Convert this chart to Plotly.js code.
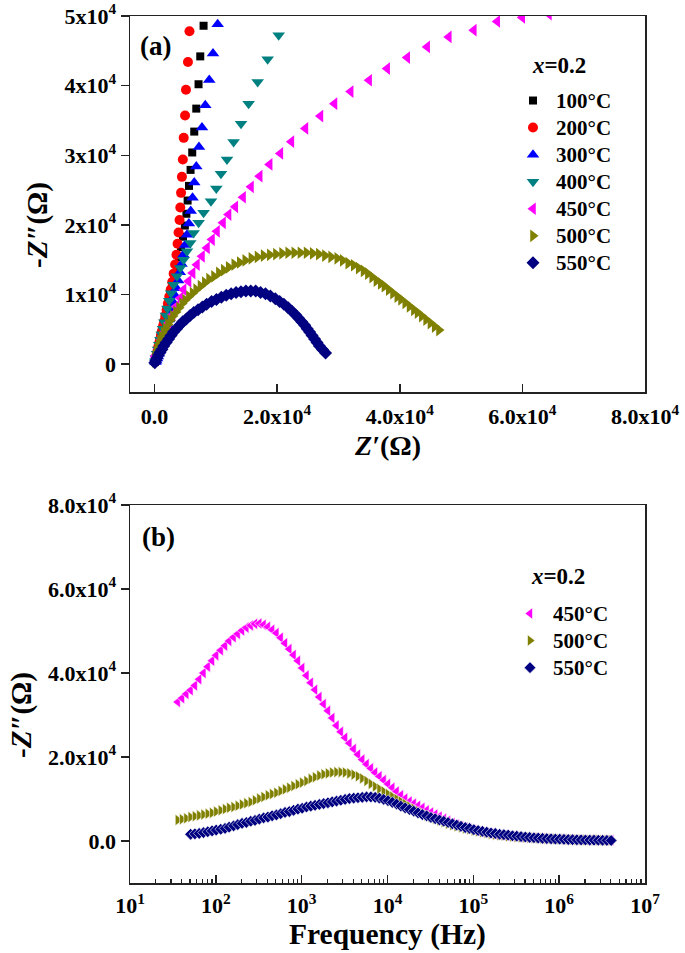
<!DOCTYPE html>
<html><head><meta charset="utf-8">
<script src="https://cdn.plot.ly/plotly-3.0.1.min.js"></script>
<style>html,body{margin:0;padding:0;background:#fff}</style>
</head><body><div id="chart" style="width:685px;height:953px"></div>
<script>
// ---------- Panel (a): Nyquist plot, Z' (Ohm) vs -Z'' (Ohm) ----------
const temps = ['100°C','200°C','300°C','400°C','450°C','500°C','550°C'];

const z100Re = [8000,7460,7180,6810,6480,6150,5880,5620,5400,5200,4950,4650,4330,4000,3680,3380,3100,2830,2570,2330,2100,1880,1670,1480,1300,1140,990,860,730,620,520,420,340,260,180,120,70];
const z100Im = [48600,44200,40200,36700,33400,30400,27900,25600,23500,21600,19900,18300,16800,15400,14100,12900,11800,10800,9800,8900,8000,7200,6400,5700,5000,4400,3800,3300,2800,2400,2000,1600,1300,1000,700,500,300];

const z200Re = [5700,5450,5130,4980,4760,4620,4470,4330,4200,4080,3920,3760,3580,3360,3120,2880,2640,2410,2180,1970,1770,1580,1400,1230,1070,920,790,660,560,460,360,280,200,130,80];
const z200Im = [47800,43400,39400,35700,32500,29400,26900,24600,22500,20700,18900,17300,15700,14300,13000,11800,10700,9700,8700,7800,7000,6200,5500,4800,4200,3600,3100,2600,2200,1800,1400,1100,800,500,300];

const z300Re = [10300,9540,8930,8280,7740,7250,6810,6480,6200,5900,5600,5300,5000,4700,4400,4120,3850,3580,3320,3060,2810,2580,2350,2130,1920,1720,1520,1340,1160,990,830,680,530,400,270,160];
const z300Im = [48800,44600,40800,37200,34000,31200,28400,26100,23900,22000,20200,18600,17100,15700,14400,13200,12000,10900,9900,8900,8000,7200,6400,5700,5000,4400,3800,3300,2800,2300,1900,1500,1100,800,500,300];

const z400Re = [20250,18450,16820,15350,14110,12900,11820,10840,10080,9210,8000,7190,6370,5830,5290,4740,4200,3660,3100,2700,2400,2100,1850,1600,1380,1170,960,770,580,420,250,110];
const z400Im = [47240,43790,40520,37410,34540,31890,29400,27340,25220,23400,21730,20290,18850,17410,16200,15010,13810,12610,11400,10200,9100,8000,7000,6000,5100,4300,3500,2800,2100,1500,900,400];

const z450Re = [64330,59980,55900,52080,48000,44470,41220,37950,35000,32000,29350,27060,24610,22320,20530,18780,17150,15740,14440,13180,12080,11170,10190,9370,8560,7740,6920,6210,5550,4740,4200,3540,2940,2290,1750,1090,650,110];
const z450Im = [50270,49800,49220,47970,47000,45560,44030,42450,40770,39140,37410,35630,33860,31950,30270,28680,27000,25470,23970,22590,21480,20290,19080,17890,16690,15480,14290,13090,11890,10690,9500,8290,7090,5900,4690,3500,2300,1090];

const z500Re = [46400,45700,45000,44300,43600,42900,42300,41600,40900,40200,39600,38900,38200,37500,36900,36200,35500,34800,34100,33300,32500,31600,30700,29800,28800,27800,26800,25800,24800,23800,22800,21800,20800,19800,18800,17800,16800,15800,14800,13900,13000,12100,11300,10500,9700,8900,8200,7500,6800,6200,5600,5000,4500,4000,3500,3000,2600,2200,1800,1500,1200,900,700,500,350,200,100,50];
const z500Im = [4900,5400,5900,6400,6900,7400,7800,8300,8800,9300,9700,10200,10700,11200,11600,12000,12500,13000,13400,13800,14200,14500,14900,15200,15400,15600,15800,15900,16000,16000,16000,16000,15900,15800,15700,15600,15400,15200,14900,14600,14300,13900,13500,13100,12600,12200,11700,11200,10700,10200,9700,9200,8700,8100,7500,6900,6300,5700,5100,4500,3900,3300,2700,2200,1700,1200,800,400];

const z550Re = [27900,27400,26900,26500,26100,25700,25300,24900,24500,24000,23500,23000,22400,21800,21100,20400,19700,18900,18100,17300,16500,15700,14900,14100,13300,12500,11700,10900,10100,9300,8500,7800,7100,6400,5800,5200,4600,4100,3600,3100,2700,2300,1900,1500,1200,900,650,400,200,50];
const z550Im = [1600,2100,2600,3100,3600,4100,4600,5100,5600,6100,6600,7100,7600,8100,8600,9000,9400,9800,10100,10300,10500,10500,10500,10400,10300,10100,9900,9600,9300,9000,8600,8200,7800,7400,7000,6500,6100,5600,5100,4600,4100,3600,3100,2600,2100,1700,1300,900,500,200];

const xTickVals = [0,20000,40000,60000,80000];
const xTickText = ['0.0','2.0x10<sup>4</sup>','4.0x10<sup>4</sup>','6.0x10<sup>4</sup>','8.0x10<sup>4</sup>'];
const yTickVals = [0,10000,20000,30000,40000,50000];
const yTickText = ['0','1x10<sup>4</sup>','2x10<sup>4</sup>','3x10<sup>4</sup>','4x10<sup>4</sup>','5x10<sup>4</sup>'];

// ---------- Panel (b): -Z'' (Ohm) vs frequency (Hz) ----------
const freqHz = [36,40.4,45.3,50.8,57,64,71.8,80.5,90.4,101,
114,128,143,161,180,202,227,255,286,321,
360,404,453,508,570,640,718,805,904,1014,
1138,1276,1432,1607,1803,2023,2270,2547,2858,3206,
3598,4037,4529,5082,5702,6397,7178,8054,9036,10139,
11376,12764,14322,16069,18030,20230,22699,25468,28576,32063,
35975,40365,45290,50816,57016,63973,71779,80537,90364,101390,
113761,127642,143217,160692,180299,202299,226983,254679,285755,320622,
359744,403639,452889,508150,570153,639722,717779,805361,903632,1013890,
1137600,1276400,1432200,1606900,1803000,2023000,2269900,2546800,2857600,3206300,
3597500,4036500];
const f450Im = [33100,34000,35000,35900,37000,38500,40000,41500,42900,44200,
45400,46500,47600,48500,49300,50100,50800,51300,51700,51800,
51500,51000,50300,49500,48400,47100,45700,44300,42900,41200,
39400,37700,36000,34300,32600,31000,29300,27500,26000,24600,
23300,21900,20600,19400,18300,17300,16300,15400,14500,13600,
12700,11800,10900,10100,9400,8900,8400,7900,7300,6800,
6300,5800,5300,4800,4300,3900,3500,3200,2900,2600,
2300,2100,1900,1700,1500,1400,1300,1200,1100,1000,
900,850,800,750,700,650,600,550,500,450,
400,380,350,320,300,280,260,240,220,200,
180,160];
const f500Im = [5000,5200,5400,5700,5900,6100,6300,6500,6700,7000,
7300,7600,7900,8100,8400,8700,9000,9300,9700,10100,
10500,10900,11200,11500,11900,12300,12700,13100,13500,13900,
14300,14800,15200,15600,15900,16100,16300,16400,16400,16300,
16100,15800,15400,14900,14300,13600,13000,12400,11800,11200,
10600,10000,9400,8800,8200,7700,7100,6600,6100,5700,
5300,4900,4500,4100,3800,3500,3300,3000,2800,2500,
2300,2100,1900,1700,1500,1400,1300,1150,1050,950,
900,850,780,720,660,610,560,520,480,440,
400,370,340,310,290,270,250,230,210,190,
170,150];
const f550Start = 3; // 550 °C series begins at the 4th frequency
const f550Im = [1600,1700,1800,2000,2200,2400,2600,
2800,3000,3300,3600,3900,4200,4400,4700,4900,5200,
5500,5700,6000,6200,6500,6800,7000,7300,7600,7800,
8100,8300,8500,8700,8900,9100,9300,9500,9700,9900,
10100,10200,10300,10400,10500,10500,10400,10200,9900,9600,
9200,8800,8300,7900,7500,7100,6700,6300,6000,5600,
5300,5000,4700,4400,4100,3800,3500,3200,3000,2700,
2500,2300,2100,1900,1800,1600,1500,1400,1250,1150,
1050,950,850,770,700,630,570,520,470,430,
390,350,320,290,260,240,220,200,180,160,
140,120];
const fTickVals = [10,100,1000,10000,100000,1000000,10000000];
const fTickText = ['10<sup>1</sup>','10<sup>2</sup>','10<sup>3</sup>','10<sup>4</sup>','10<sup>5</sup>','10<sup>6</sup>','10<sup>7</sup>'];
const yTickVals2 = [0,20000,40000,60000,80000];
const yTickText2 = ['0.0','2.0x10<sup>4</sup>','4.0x10<sup>4</sup>','6.0x10<sup>4</sup>','8.0x10<sup>4</sup>'];

// ---------- styling ----------
const colors = ['#000000','#FF0000','#0000FF','#008080','#FF00FF','#808000','#000080'];
const symbols = ['square','circle','triangle-up','triangle-down','triangle-left','triangle-right','diamond'];
const sizes = [8,10,11,11,11,11,10];

const W=685,H=953,L=130,R=40,T=16,B=70;
const px = x => (x-L)/(W-L-R);
const py = y => (H-B-y)/(H-T-B);
const FONT = 'Liberation Serif';
const legendName = t => '<span style="font-size:21px">'+t+'</span>';

const topRe = [z100Re,z200Re,z300Re,z400Re,z450Re,z500Re,z550Re];
const topIm = [z100Im,z200Im,z300Im,z400Im,z450Im,z500Im,z550Im];
const traces = [];
for (let i=0;i<7;i++){
  traces.push({x:topRe[i], y:topIm[i], xaxis:'x', yaxis:'y', type:'scatter', mode:'markers',
    name:legendName(temps[i]), legend:'legend',
    marker:{symbol:symbols[i], size:sizes[i], color:colors[i], line:{width:0}}});
}
const botIm = [f450Im,f500Im,f550Im];
const botF = [freqHz, freqHz, freqHz.slice(f550Start)];
for (let j=0;j<3;j++){
  const i=j+4;
  traces.push({x:botF[j], y:botIm[j], xaxis:'x2', yaxis:'y2', type:'scatter', mode:'markers',
    name:legendName(temps[i]), legend:'legend2',
    marker:{symbol:symbols[i], size:j===2?9:10, color:colors[i], line:{width:0.6,color:'#ffffff'}}});
}

const tf = {size:22, family:FONT, color:'#000', weight:'bold'};
const axBase = {showgrid:false, zeroline:false, showline:true, mirror:true, linecolor:'#222', linewidth:1.5,
  tickwidth:1.5, tickcolor:'#222', ticklen:8, tickfont:tf};

const ann = (x,y,text,size,extra) => Object.assign({xref:'paper', yref:'paper', x:px(x), y:py(y), text:text, showarrow:false,
  xanchor:'center', yanchor:'middle', font:{family:FONT, size:size, color:'#000', weight:'bold'}}, extra||{});

const legFont = {size:18.5, family:FONT, color:'#000', weight:'bold'};
const layout = {
  width:W, height:H, margin:{l:L,r:R,t:T,b:B}, paper_bgcolor:'#fff', plot_bgcolor:'#fff',
  font:{family:FONT, size:21, color:'#000', weight:'bold'},
  showlegend:true,
  xaxis:Object.assign({}, axBase, {domain:[0,1], anchor:'y', range:[-4000,80000], ticks:'inside',
      tickmode:'array', tickvals:xTickVals, ticktext:xTickText, ticklabelstandoff:4}),
  yaxis:Object.assign({}, axBase, {domain:[py(392),1], anchor:'x', range:[-4000,50000], ticks:'outside',
      tickmode:'array', tickvals:yTickVals, ticktext:yTickText}),
  xaxis2:Object.assign({}, axBase, {domain:[0,1], anchor:'y2', type:'log', range:[1,7], ticks:'inside',
      tickmode:'array', tickvals:fTickVals, ticktext:fTickText, ticklabelstandoff:2,
      minor:{ticks:'inside', ticklen:4, tickwidth:1.2, tickcolor:'#222', dtick:'D1'}}),
  yaxis2:Object.assign({}, axBase, {domain:[0,py(505)], anchor:'x2', range:[-10000,80000], ticks:'outside',
      tickmode:'array', tickvals:yTickVals2, ticktext:yTickText2}),
  legend:{x:px(510), y:py(82), xanchor:'left', yanchor:'top', bgcolor:'rgba(0,0,0,0)',
      font:legFont, itemwidth:36, tracegroupgap:0},
  legend2:{x:px(507), y:py(595), xanchor:'left', yanchor:'top', bgcolor:'rgba(0,0,0,0)',
      font:legFont, itemwidth:36, tracegroupgap:0},
  annotations:[
    ann(155,46,'(a)',27),
    ann(158,537,'(b)',27),
    ann(559,65,'<i>x</i>=0.2',23),
    ann(558,577,'<i>x</i>=0.2',23),
    ann(37,225,'-<i>Z″</i>(Ω)',29,{textangle:-90}),
    ann(387,445,'<i>Z′</i>(Ω)',28),
    ann(21,715,'-<i>Z″</i>(Ω)',29,{textangle:-90}),
    ann(387,934,'Frequency (Hz)',29.5)
  ]
};
Plotly.newPlot('chart', traces, layout, {displayModeBar:false, staticPlot:true});
</script></body></html>
